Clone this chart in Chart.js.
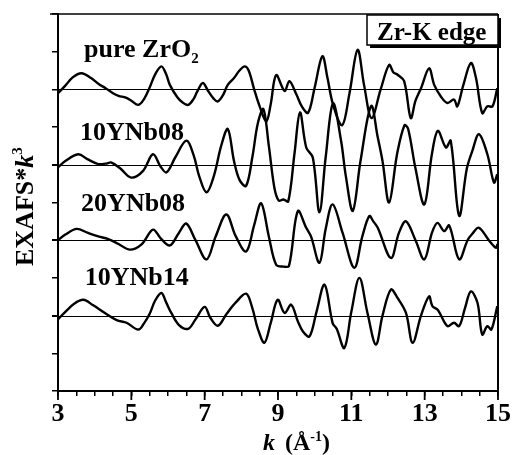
<!DOCTYPE html>
<html>
<head>
<meta charset="utf-8">
<script src="https://cdn.jsdelivr.net/npm/chart.js@4.4.0/dist/chart.umd.min.js"></script>
<style>
  html,body{margin:0;padding:0;background:#fff;}
</style>
</head>
<body>
<canvas id="chart" width="514" height="455"></canvas>
<script>
// ------------------- Data (k in 1/A, EXAFS*k^3) -------------------
const pureZrO2 = [[3.0,-0.1],[3.2,0.1],[3.4,0.32],[3.64,0.43],[3.9,0.3],[4.1,0.15],[4.3,0.03],[4.5,-0.1],[4.65,-0.17],[4.85,-0.22],
  [5.0,-0.3],[5.19,-0.41],[5.35,-0.25],[5.5,0.05],[5.65,0.4],[5.82,0.61],[5.95,0.4],[6.05,0.12],[6.25,-0.2],[6.4,-0.35],
  [6.55,-0.41],[6.7,-0.25],[6.8,-0.05],[6.95,0.17],[7.1,-0.05],[7.25,-0.25],[7.36,-0.32],[7.5,-0.15],[7.63,0.12],[7.8,0.3],
  [7.95,0.5],[8.09,0.61],[8.2,0.5],[8.35,0.0],[8.5,-0.45],[8.68,-0.85],[8.8,-0.4],[8.95,0.38],[9.18,-0.04],[9.31,0.22],
  [9.5,-0.13],[9.65,-0.45],[9.82,-0.62],[10.0,0.05],[10.21,0.88],[10.35,0.3],[10.5,-0.4],[10.75,-0.95],[10.95,-0.1],[11.17,1.05],
  [11.35,0.1],[11.55,-0.76],[11.8,0.0],[12.03,0.65],[12.15,0.45],[12.26,0.39],[12.44,0.22],[12.62,-0.76],[12.75,-0.3],[12.9,0.03],
  [13.12,0.56],[13.26,0.12],[13.45,-0.2],[13.62,-0.36],[13.8,-0.27],[13.89,-0.45],[14.05,0.1],[14.26,0.7],[14.4,0.3],[14.57,-0.63],
  [14.71,-0.45],[14.85,-0.45],[14.98,0.03]];

const yNb08_10 = [[3.0,-0.07],[3.2,0.1],[3.55,0.28],[3.8,0.15],[4.1,0.02],[4.3,0.03],[4.46,0.06],[4.7,-0.1],[5.0,-0.34],[5.32,-0.16],
  [5.59,0.28],[5.8,-0.05],[5.96,-0.2],[6.2,0.2],[6.5,0.64],[6.7,0.25],[6.85,-0.3],[7.05,-0.73],[7.25,-0.3],[7.45,0.5],
  [7.63,0.95],[7.8,0.1],[7.95,-0.4],[8.13,-0.56],[8.3,0.2],[8.45,1.1],[8.6,1.48],[8.75,0.5],[8.9,-0.6],[9.02,-0.95],
  [9.15,-0.92],[9.28,-0.97],[9.45,0.3],[9.6,1.39],[9.77,0.46],[9.95,0.19],[10.13,-1.26],[10.3,0.2],[10.5,1.63],[10.72,0.64],
  [10.85,-0.3],[11.04,-1.22],[11.25,0.1],[11.54,1.56],[11.72,0.73],[11.85,0.1],[12.03,-1.0],[12.25,0.3],[12.45,1.05],[12.55,0.95],
  [12.75,-0.1],[12.99,-1.05],[13.2,0.3],[13.36,0.9],[13.58,0.46],[13.71,0.64],[13.94,-1.35],[14.15,-0.1],[14.3,0.37],[14.48,0.81],
  [14.71,0.28],[14.89,-0.47],[14.98,-0.25]];

const yNb08_20 = [[3.0,0.0],[3.2,0.15],[3.51,0.3],[3.8,0.2],[4.1,0.1],[4.37,0.03],[4.65,-0.1],[4.96,-0.25],[5.28,-0.11],[5.59,0.28],
  [5.8,0.05],[6.05,-0.14],[6.3,0.2],[6.5,0.44],[6.75,0.0],[7.05,-0.51],[7.3,0.1],[7.59,0.68],[7.85,0.1],[8.13,-0.3],
  [8.35,0.4],[8.54,0.98],[8.75,0.1],[8.95,-0.65],[9.15,-0.7],[9.3,-0.68],[9.54,0.77],[9.77,0.33],[9.9,0.1],[10.13,-0.6],
  [10.3,0.3],[10.49,0.95],[10.76,0.2],[11.08,-0.73],[11.3,0.1],[11.49,0.64],[11.6,0.5],[11.72,0.33],[12.08,-0.47],[12.3,0.2],
  [12.49,0.5],[12.75,0.0],[12.99,-0.51],[13.2,0.2],[13.35,0.46],[13.53,0.24],[13.67,0.39],[13.94,-0.51],[14.17,0.0],[14.3,0.17],
  [14.48,0.33],[14.75,0.0],[14.94,-0.2],[14.99,-0.1]];

const yNb14_10 = [[3.0,-0.1],[3.2,0.1],[3.45,0.32],[3.69,0.42],[3.95,0.28],[4.28,0.07],[4.6,-0.12],[4.87,-0.19],[5.19,-0.37],[5.35,-0.2],
  [5.5,0.05],[5.65,0.4],[5.82,0.6],[5.95,0.35],[6.09,0.07],[6.3,-0.25],[6.55,-0.35],[6.75,-0.1],[7.0,0.23],[7.15,-0.05],
  [7.36,-0.27],[7.6,0.05],[7.85,0.35],[8.13,0.58],[8.3,0.2],[8.45,-0.35],[8.63,-0.72],[8.8,-0.2],[8.99,0.42],[9.18,0.07],
  [9.36,0.29],[9.54,-0.15],[9.68,-0.42],[9.86,-0.55],[10.05,0.1],[10.27,0.82],[10.49,-0.2],[10.6,-0.35],[10.81,-0.86],[11.0,0.1],
  [11.22,1.0],[11.44,0.07],[11.67,-0.77],[11.85,0.0],[12.08,0.69],[12.26,0.47],[12.49,0.07],[12.67,-0.72],[12.9,0.0],[13.12,0.51],
  [13.21,0.25],[13.36,0.15],[13.62,-0.28],[13.8,-0.19],[13.94,-0.28],[14.1,0.2],[14.26,0.64],[14.44,0.34],[14.57,-0.5],[14.71,-0.28],
  [14.82,-0.37],[14.98,0.25]];

const seriesList = [pureZrO2, yNb08_10, yNb08_20, yNb14_10];
const offsets = [8, 6, 4, 2];
const sampleNames = ["pure ZrO", "10YNb08", "20YNb08", "10YNb14"];
// label anchor in data coords (k, y)
const labelPos = [[3.71, 8.86], [3.6, 6.66], [3.63, 4.77], [3.73, 2.81]];
const edgeLabel = "Zr-K edge";

const SERIF = '"Liberation Serif", "Times New Roman", serif';
const B = (s) => `bold ${s}px ${SERIF}`;
const BI = (s) => `italic bold ${s}px ${SERIF}`;

// ------------------- Helpers -------------------
function drawRuns(ctx, runs, x, y){
  let cx = x;
  runs.forEach(r=>{
    ctx.font = r.font;
    ctx.fillText(r.t, cx, y + (r.dy || 0));
    cx += ctx.measureText(r.t).width + (r.gap || 0);
  });
}

const decor = {
  id: "decor",
  beforeDatasetsDraw(chart){
    const {ctx, chartArea: a, scales: {y}} = chart;
    ctx.save();
    ctx.strokeStyle = "#000";
    ctx.lineWidth = 1;
    offsets.forEach(o=>{
      const py = Math.round(y.getPixelForValue(o)) + 0.5;
      ctx.beginPath(); ctx.moveTo(a.left - 6, py); ctx.lineTo(a.right, py); ctx.stroke();
    });
    ctx.restore();
  },
  afterDraw(chart){
    const {ctx, chartArea: a, scales: {x, y}} = chart;
    ctx.save();
    ctx.fillStyle = "#000";
    ctx.strokeStyle = "#000";
    // frame top + right
    ctx.lineWidth = 1.5;
    ctx.beginPath(); ctx.moveTo(a.left - 8, a.top); ctx.lineTo(a.right, a.top); ctx.stroke();
    ctx.lineWidth = 2;
    ctx.beginPath(); ctx.moveTo(a.right, a.top); ctx.lineTo(a.right, a.bottom); ctx.stroke();

    // longer ticks at labelled k values
    ctx.lineWidth = 1.8;
    x.ticks.forEach(t=>{
      if(Math.abs(t.value % 2 - 1) < 1e-6){
        const px = x.getPixelForValue(t.value);
        ctx.beginPath(); ctx.moveTo(px, a.bottom); ctx.lineTo(px, a.bottom + 9); ctx.stroke();
      }
    });

    // sample labels
    ctx.textBaseline = "alphabetic";
    ctx.textAlign = "left";
    sampleNames.forEach((n,i)=>{
      const px = x.getPixelForValue(labelPos[i][0]);
      const py = y.getPixelForValue(labelPos[i][1]);
      const runs = [{t:n, font:B(26)}];
      if(i === 0) runs.push({t:"2", font:B(15), dy:6});
      drawRuns(ctx, runs, px, py);
    });

    // edge box
    const bx = 367, by = 15, bw = 131, bh = 30;
    ctx.fillRect(bx + 3, by + 3, bw, bh);
    ctx.fillStyle = "#fff";
    ctx.fillRect(bx, by, bw, bh);
    ctx.fillStyle = "#000";
    ctx.lineWidth = 1.5;
    ctx.strokeRect(bx, by, bw, bh);
    ctx.font = B(25);
    ctx.fillText(edgeLabel, bx + 10, by + 25);

    // y title
    ctx.save();
    ctx.translate(33, 266);
    ctx.rotate(-Math.PI/2);
    drawRuns(ctx, [{t:"EXAFS*", font:B(26)}, {t:"k", font:BI(26)}, {t:"3", font:B(15), dy:-11}], 0, 0);
    ctx.restore();

    // x title
    drawRuns(ctx, [{t:"k", font:BI(24), gap:10}, {t:"(Å", font:B(24)}, {t:"-1", font:B(14), dy:-9}, {t:")", font:B(24)}], 263, 450);
    ctx.restore();
  }
};

// ------------------- Chart -------------------
const datasets = seriesList.map((s,i)=>({
  data: s.map(p=>({x:p[0], y:p[1] + offsets[i]})),
  borderColor: "#000",
  borderWidth: 2.4,
  pointRadius: 0,
  fill: false,
  tension: 0.35
}));

new Chart(document.getElementById("chart"), {
  type: "line",
  data: { datasets },
  options: {
    responsive: false,
    animation: false,
    devicePixelRatio: 1,
    layout: { padding: { top: 14, right: 15, left: 0, bottom: 0 } },
    plugins: { legend: { display: false }, tooltip: { enabled: false } },
    scales: {
      x: {
        type: "linear", min: 3, max: 15,
        border: { color: "#000", width: 2 },
        grid: { drawOnChartArea: false, color: "#000", tickLength: 5, lineWidth: 1.5 },
        ticks: {
          stepSize: 0.5, autoSkip: false, maxRotation: 0, padding: 3,
          color: "#000", font: { family: SERIF, size: 26, weight: "bold" },
          callback: v => (Math.abs(v % 2 - 1) < 1e-6 ? v : "")
        },
        afterFit: s => { s.height = 64; }
      },
      y: {
        min: 0, max: 10,
        border: { color: "#000", width: 2 },
        grid: { drawOnChartArea: false, color: "#000", tickLength: 6, lineWidth: 1.5 },
        ticks: { stepSize: 1, display: false },
        afterFit: s => { s.width = 58; }
      }
    }
  },
  plugins: [decor]
});
</script>
</body>
</html>
